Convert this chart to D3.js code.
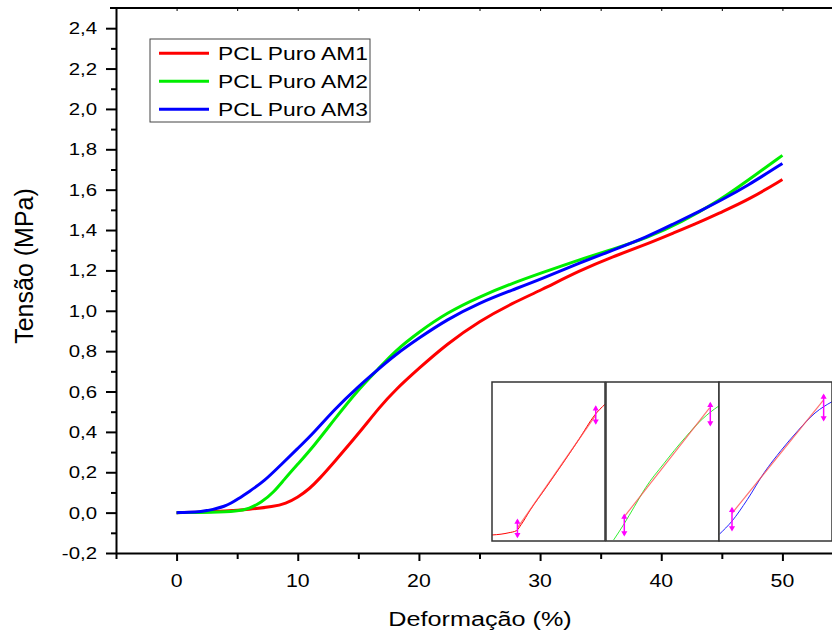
<!doctype html>
<html>
<head>
<style>
  body { margin: 0; background: #fff; }
  text { font-family: "Liberation Sans", Arial, sans-serif; fill: #000; }
</style>
<script src="https://d3js.org/d3.v7.min.js"></script>
</head>
<body>
<svg width="832" height="635"></svg>
<script>
// stress-strain curves, [strain %, stress MPa]
var am1 = [[0,0],[2,0.002],[4,0.007],[6,0.016],[8,0.03],[9,0.045],[10,0.075],[11,0.12],[11.7,0.162],[13,0.25],[15,0.39],[16.8,0.526],[18,0.605],[20,0.715],[22.3,0.835],[25,0.95],[27.8,1.04],[30,1.1],[33.3,1.2],[36,1.268],[38.8,1.33],[41,1.385],[43.2,1.44],[45,1.49],[47.2,1.55],[50,1.65]];
var am2 = [[0,0],[3,0.001],[5,0.006],[6,0.02],[7,0.05],[8,0.1],[8.85,0.162],[10,0.24],[11.3,0.328],[13,0.46],[15,0.61],[16.6,0.708],[18,0.8],[20,0.895],[22.3,0.99],[25,1.07],[27.8,1.138],[30,1.185],[33.3,1.254],[36,1.305],[38.8,1.36],[41.6,1.436],[44.9,1.55],[47,1.64],[50,1.77]];
var am3 = [[0,0],[1,0.001],[2,0.005],[3,0.015],[4,0.032],[4.5,0.047],[5,0.065],[6,0.105],[7.2,0.154],[8.6,0.236],[10,0.318],[11.3,0.394],[13,0.51],[15,0.625],[16.6,0.708],[18,0.78],[20,0.865],[22.3,0.956],[25,1.04],[27.8,1.105],[30,1.155],[33.3,1.238],[36,1.3],[38.8,1.365],[41,1.43],[43.2,1.494],[45,1.55],[47,1.615],[50,1.73]];

var seriesNames = ["PCL Puro AM1", "PCL Puro AM2", "PCL Puro AM3"];
var seriesColors = ["#ff0000", "#00ee00", "#0000ff"];

var yTicks = [-0.2,0,0.2,0.4,0.6,0.8,1.0,1.2,1.4,1.6,1.8,2.0,2.2,2.4];
var yMinor = [-0.1,0.1,0.3,0.5,0.7,0.9,1.1,1.3,1.5,1.7,1.9,2.1,2.3];
var xTicks = [0,10,20,30,40,50];
var xMinor = [-5,5,15,25,35,45,55];

// inset panels, values in % of panel
var inset1Curve = [[0,3.8],[8,4.3],[15,5.2],[21.6,6.5],[26,10.5],[33.4,19],[48,33.8],[62.8,49],[77,64],[90.9,79.2],[100,86]];
var inset1Fit = [[22.5,8.2],[91.8,79.2]];
var inset1Marks = [[22.5,2.7,13.2],[91.8,74,84.5]];
var inset2Curve = [[6.7,0.6],[16.2,11],[25,21.5],[35,33.5],[51,48.5],[70,65],[85,76.5],[92.3,81],[100,85]];
var inset2Fit = [[16.2,15.3],[91.7,83.8]];
var inset2Marks = [[16.2,3.8,16.4],[92.3,73,86.6]];
var inset3Curve = [[0.5,4.4],[11.5,12.5],[25,26],[40,43],[55,57],[70,69.5],[85,80.5],[100,87.6]];
var inset3Fit = [[11.5,17.4],[92.6,88.7]];
var inset3Marks = [[11.5,6.9,20.6],[92.6,76.1,91.8]];

var svg = d3.select("svg");

var x = d3.scaleLinear().domain([-5, 55]).range([116, 843]);
var y = d3.scaleLinear().domain([-0.2, 2.5]).range([553, 8]);

function fmt(v) { return d3.format(".1f")(v).replace(".", ",").replace("−", "-"); }

function label(g, px, py, txt, size, sx, anchor) {
    return g.append("text")
        .attr("transform", "translate(" + px + "," + py + ") scale(" + sx + ",1)")
        .attr("font-size", size + "px")
        .attr("text-anchor", anchor)
        .text(txt);
}

// curves
var line = d3.line()
    .x(function(d) { return x(d[0]); })
    .y(function(d) { return y(d[1]); })
    .curve(d3.curveBasis);

[am1, am2, am3].forEach(function(s, i) {
    svg.append("path")
       .attr("d", line(s))
       .attr("fill", "none")
       .attr("stroke", seriesColors[i])
       .attr("stroke-width", 3);
});

// axes
var leftAxis = svg.append("g").attr("transform", "translate(116,0)");
leftAxis.call(d3.axisLeft(y).tickValues(yTicks).tickSize(10).tickSizeOuter(0).tickFormat(""));
var leftMinor = svg.append("g").attr("transform", "translate(116,0)");
leftMinor.call(d3.axisLeft(y).tickValues(yMinor).tickSize(5).tickFormat(""));
leftMinor.select(".domain").remove();

var bottomAxis = svg.append("g").attr("transform", "translate(0,553)");
bottomAxis.call(d3.axisBottom(x).tickValues(xTicks).tickSize(8).tickSizeOuter(0).tickFormat(""));
var bottomMinor = svg.append("g").attr("transform", "translate(0,553)");
bottomMinor.call(d3.axisBottom(x).tickValues(xMinor).tickSize(6).tickFormat(""));
bottomMinor.select(".domain").remove();

var topAxis = svg.append("g").attr("transform", "translate(0,8)");
topAxis.call(d3.axisTop(x).tickValues(xTicks.concat(xMinor)).tickSize(-3).tickSizeOuter(0).tickFormat(""));

svg.selectAll(".domain").attr("stroke", "#000").attr("stroke-width", 2);
svg.selectAll(".tick line").attr("stroke", "#000").attr("stroke-width", 2);
topAxis.selectAll(".tick line").attr("stroke-width", 1);
topAxis.select(".domain").attr("d", "M110,0H843");

// tick labels
yTicks.forEach(function(v) { label(svg, 97, y(v) + 6, fmt(v), 17, 1.2, "end"); });
xTicks.forEach(function(v) { label(svg, x(v), 587, String(v), 19, 1.12, "middle"); });

// axis titles
label(svg, 480, 626, "Deformação (%)", 21, 1.2, "middle");
svg.append("text")
   .attr("transform", "translate(33,266) rotate(-90)")
   .attr("font-size", "25px")
   .attr("text-anchor", "middle")
   .text("Tensão (MPa)");

// legend
var legend = svg.append("g");
legend.append("rect")
      .attr("x", 150).attr("y", 39).attr("width", 220).attr("height", 83)
      .attr("fill", "#fff").attr("stroke", "#444").attr("stroke-width", 1);
seriesNames.forEach(function(n, i) {
    var ry = 53.3 + i * 28;
    legend.append("line")
          .attr("x1", 159).attr("x2", 209).attr("y1", ry).attr("y2", ry)
          .attr("stroke", seriesColors[i]).attr("stroke-width", 3);
    label(legend, 218, ry + 6.7, n, 19, 1.2, "start");
});

// insets
var panels = [
    { x0: 492, curve: inset1Curve, fit: inset1Fit, marks: inset1Marks, color: "#ff0000" },
    { x0: 606, curve: inset2Curve, fit: inset2Fit, marks: inset2Marks, color: "#33ee33" },
    { x0: 719, curve: inset3Curve, fit: inset3Fit, marks: inset3Marks, color: "#2222ff" }
];
var pTop = 382, pW = 113, pH = 159;
var defs = svg.append("defs");

panels.forEach(function(p, i) {
    var px = d3.scaleLinear().domain([0, 100]).range([p.x0, p.x0 + pW]);
    var py = d3.scaleLinear().domain([0, 100]).range([pTop + pH, pTop]);
    defs.append("clipPath").attr("id", "clip" + i)
        .append("rect").attr("x", p.x0).attr("y", pTop).attr("width", pW).attr("height", pH);
    var g = svg.append("g");
    g.append("rect").attr("x", p.x0).attr("y", pTop).attr("width", pW).attr("height", pH)
     .attr("fill", "#fff");
    var l = d3.line().x(function(d) { return px(d[0]); }).y(function(d) { return py(d[1]); });
    var c = g.append("g").attr("clip-path", "url(#clip" + i + ")");
    c.append("path").attr("d", l.curve(d3.curveMonotoneX)(p.curve))
     .attr("fill", "none").attr("stroke", p.color).attr("stroke-width", 1);
    c.append("path").attr("d", l.curve(d3.curveLinear)(p.fit))
     .attr("fill", "none").attr("stroke", "#ff5050").attr("stroke-width", 1.2).attr("opacity", 0.8);
    p.marks.forEach(function(m) {
        c.append("line").attr("x1", px(m[0])).attr("x2", px(m[0]))
         .attr("y1", py(m[1])).attr("y2", py(m[2]))
         .attr("stroke", "#ff00ff").attr("stroke-width", 1.5);
        c.append("path").attr("d", d3.symbol(d3.symbolTriangle, 16)())
         .attr("transform", "translate(" + px(m[0]) + "," + (py(m[2]) + 2) + ")")
         .attr("fill", "#ff00ff");
        c.append("path").attr("d", d3.symbol(d3.symbolTriangle, 16)())
         .attr("transform", "translate(" + px(m[0]) + "," + (py(m[1]) - 2) + ") rotate(180)")
         .attr("fill", "#ff00ff");
    });
    g.append("rect").attr("x", p.x0).attr("y", pTop).attr("width", pW).attr("height", pH)
     .attr("fill", "none").attr("stroke", "#333").attr("stroke-width", 1.5);
});
</script>
</body>
</html>
